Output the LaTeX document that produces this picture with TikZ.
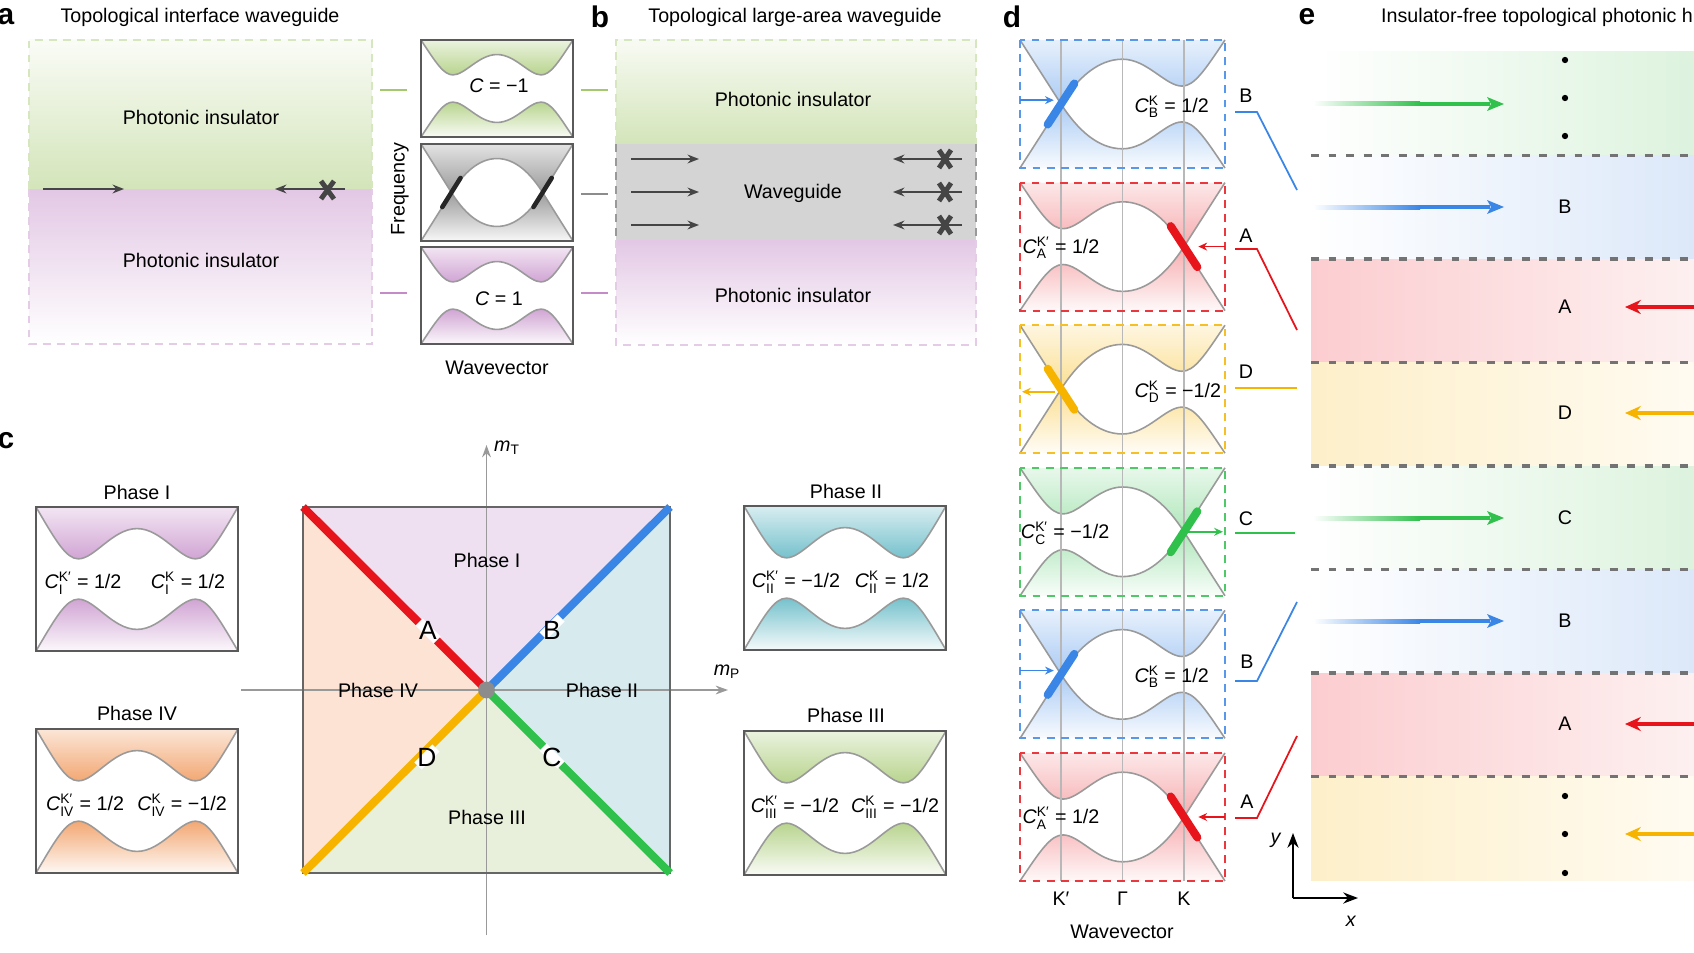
\documentclass[tikz,border=0pt]{standalone}
\usepackage{amsmath}
\usepackage{fontspec}
\setmainfont{Liberation Sans}
\usetikzlibrary{arrows.meta}
\definecolor{bgreen}{HTML}{A4C86E}
\definecolor{bpurple}{HTML}{C48BC8}
\definecolor{bteal}{HTML}{4FB0BE}
\definecolor{borange}{HTML}{EF8F4C}
\definecolor{eblue}{HTML}{3A86E6}
\definecolor{ered}{HTML}{E8141C}
\definecolor{eyellow}{HTML}{F6B400}
\definecolor{egreen}{HTML}{30C04C}
\definecolor{bandline}{HTML}{9A9A9A}
\definecolor{boxline}{HTML}{5A5A5A}
\definecolor{arrowgray}{HTML}{454545}
\definecolor{phI}{HTML}{EEE0F0}
\definecolor{phII}{HTML}{D7EBEF}
\definecolor{phIII}{HTML}{E8F0DB}
\definecolor{phIV}{HTML}{FDE3D3}
\definecolor{sgreen}{HTML}{DDF3DE}
\definecolor{sblue}{HTML}{DCE8F9}
\definecolor{sred}{HTML}{FCCDD0}
\definecolor{sredl}{HTML}{FDF0F0}
\definecolor{syel}{HTML}{FDEFC9}
\definecolor{syell}{HTML}{FFFBF1}
\colorlet{fblue}{eblue!55}
\colorlet{fred}{ered!45}
\colorlet{fyellow}{eyellow!55}
\colorlet{fgreen}{egreen!50}
\colorlet{fgray}{black!50}

% band curves in a unit box (y downwards); g = gapped valley, c = cone
\newcommand{\ugL}{(0,0) .. controls (0.1,0.24) and (0.15,0.36) .. (0.21,0.36) .. controls (0.29,0.36) and (0.38,0.15) .. (0.5,0.15)}
\newcommand{\ucL}{(0,0) -- (0.2,0.5) .. controls (0.28,0.3) and (0.38,0.15) .. (0.5,0.15)}
\newcommand{\ugR}{.. controls (0.62,0.15) and (0.71,0.36) .. (0.79,0.36) .. controls (0.85,0.36) and (0.9,0.24) .. (1,0)}
\newcommand{\ucR}{.. controls (0.62,0.15) and (0.72,0.3) .. (0.8,0.5) -- (1,0)}
\newcommand{\lgL}{(0,1) .. controls (0.1,0.76) and (0.15,0.64) .. (0.21,0.64) .. controls (0.29,0.64) and (0.38,0.85) .. (0.5,0.85)}
\newcommand{\lcL}{(0,1) -- (0.2,0.5) .. controls (0.28,0.7) and (0.38,0.85) .. (0.5,0.85)}
\newcommand{\lgR}{.. controls (0.62,0.85) and (0.71,0.64) .. (0.79,0.64) .. controls (0.85,0.64) and (0.9,0.76) .. (1,1)}
\newcommand{\lcR}{.. controls (0.62,0.85) and (0.72,0.7) .. (0.8,0.5) -- (1,1)}
\newcommand{\bandbox}[7]{%
  \begin{scope}[shift={(#1,#2)},xscale=#3,yscale=#4]
    \shade[top color=#5!22,bottom color=#5!78] #6 -- cycle;
    \shade[top color=#5!78,bottom color=#5!6] #7 -- cycle;
    \draw[band] #6;
    \draw[band] #7;
  \end{scope}}
\newcommand{\chern}[2]{\textit{C}$^{\text{#1}}_{\text{#2}}$}

\begin{document}
\begin{tikzpicture}[x=0.02cm,y=-0.02cm,>=Stealth,
  font=\fontsize{11.2}{13}\selectfont,
  band/.style={draw=bandline,line width=0.9pt},
  bbox/.style={draw=boxline,line width=1.3pt},
  plet/.style={font=\fontsize{17}{17}\selectfont\bfseries},
  garr/.style={-{Stealth[length=6.5pt,width=5pt]},draw=arrowgray,line width=1.1pt},
  xmark/.style={draw=arrowgray,line width=2.8pt},
  estate/.style={line width=4.6pt,line cap=round},
  dash box/.style={line width=1.1pt,dash pattern=on 4.5pt off 3.5pt},
  tick/.style={line width=1.6pt},
  axis/.style={draw=black!40,line width=1pt},
  diag/.style={line width=4.6pt},
  gap/.style={draw=white,line width=5.8pt},
  sqlet/.style={font=\fontsize{15}{15}\selectfont},
  karr/.style={-{Stealth[length=5pt,width=4.5pt]},line width=1pt},
  link/.style={line width=1pt},
  lane/.style={dash pattern=on 4.5pt off 5.5pt,draw=black!55,line width=1.8pt}]

  \useasboundingbox (0,0) rectangle (1694,953);

  % a: interface waveguide
  \node[plet] (la) at (6,17) {a};
  \node (ta) at (200,17) {Topological interface waveguide};
  \shade[top color=bgreen!6,bottom color=bgreen!48] (29,40) rectangle (372,189);
  \shade[top color=bpurple!48,bottom color=white] (29,189) rectangle (372,344);
  \draw[dash box,draw=bgreen!45] (29,189) -- (29,40) -- (372,40) -- (372,189);
  \draw[dash box,draw=bpurple!45] (29,189) -- (29,344) -- (372,344) -- (372,189);
  \node (ia) at (201,117) {Photonic insulator};
  \node (ib) at (201,260) {Photonic insulator};
  \draw[garr] (43,189) -- (124,189);
  \draw[garr] (345,189) -- (275,189);
  \draw[xmark] (321,181) -- (334,199) (321,199) -- (334,181);

  \bandbox{421}{40}{152}{97}{bgreen}{\ugL\ugR}{\lgL\lgR}
  \bandbox{421}{144}{152}{97}{fgray}{\ucL\ucR}{\lcL\lcR}
  \bandbox{421}{247}{152}{97}{bpurple}{\ugL\ugR}{\lgL\lgR}
  \begin{scope}[shift={(421,144)},xscale=152,yscale=97]
    \draw[estate,black!85,line width=2.6pt] (0.14,0.65) -- (0.26,0.35) (0.74,0.65) -- (0.86,0.35);
  \end{scope}
  \foreach \t in {40,144,247} {\draw[bbox] (421,\t) rectangle ++(152,97);}
  \node (cm1) at (499,86) {\textit{C} = −1};
  \node (cp1) at (499,299) {\textit{C} = 1};
  \node[rotate=90] (fq) at (400,189) {Frequency};
  \node (wva) at (497,368) {Wavevector};
  \draw[tick,draw=bgreen] (380,90) -- (407,90);
  \draw[tick,draw=bpurple] (380,293) -- (407,293);
  \foreach \c/\y in {bgreen/90,black!45/194,bpurple/293}
    {\draw[tick,draw=\c] (581,\y) -- (608,\y);}

  % b: large-area waveguide
  \node[plet] (lb) at (600,17) {b};
  \node (tb) at (795,17) {Topological large-area waveguide};
  \shade[top color=bgreen!8,bottom color=bgreen!48] (616,40) rectangle (976,144);
  \fill[black!17] (616,144) rectangle (976,240);
  \shade[top color=bpurple!48,bottom color=white] (616,240) rectangle (976,345);
  \draw[dash box,draw=bgreen!45] (616,144) -- (616,40) -- (976,40) -- (976,144);
  \draw[dash box,draw=black!40] (616,144) -- (616,240) (976,144) -- (976,240);
  \draw[dash box,draw=bpurple!45] (616,240) -- (616,345) -- (976,345) -- (976,240);
  \node (pb1) at (793,99) {Photonic insulator};
  \node (wg) at (793,193) {Waveguide};
  \node (pb2) at (793,295) {Photonic insulator};
  \foreach \y in {159,192,225} {
    \draw[garr] (631,\y) -- (699,\y);
    \draw[garr] (962,\y) -- (893,\y);
    \draw[xmark] (939,{\y-9}) -- (951,{\y+9}) (939,{\y+9}) -- (951,{\y-9});
  }

  % c: phase diagram
  \node[plet] (lc) at (6,441) {c};
  \fill[phI] (303,507) -- (670,507) -- (486.5,690) -- cycle;
  \fill[phII] (670,507) -- (670,873) -- (486.5,690) -- cycle;
  \fill[phIII] (670,873) -- (303,873) -- (486.5,690) -- cycle;
  \fill[phIV] (303,873) -- (303,507) -- (486.5,690) -- cycle;
  \draw[axis,-{Stealth[length=7pt,width=5pt]}] (241,690) -- (728,690);
  \draw[axis,-{Stealth[length=7pt,width=5pt]}] (486.5,935) -- (486.5,445);
  \draw[draw=black!60,line width=1pt] (303,507) rectangle (670,873);
  \draw[diag,ered] (303,507) -- (486.5,690);
  \draw[diag,eblue] (670,507) -- (486.5,690);
  \draw[diag,egreen] (670,873) -- (486.5,690);
  \draw[diag,eyellow] (303,873) -- (486.5,690);
  \fill[black!45] (486.5,690) circle (4.8pt);
  % white breaks under the boundary letters
  \draw[gap] (419,622) -- (437,640);
  \draw[gap] (543,636) -- (561,618);
  \draw[gap] (418,766) -- (436,748);
  \draw[gap] (543,747) -- (561,765);
  \node[sqlet] (qA) at (428,630) {A};
  \node[sqlet] (qB) at (552,630) {B};
  \node[sqlet] (qD) at (427,757) {D};
  \node[sqlet] (qC) at (552,757) {C};
  \node (mt) at (507,448) {\textit{m}$_{\text{T}}$};
  \node (mp) at (727,672) {\textit{m}$_{\text{P}}$};
  \node (rI) at (487,560) {Phase I};
  \node (rIV) at (378,690) {Phase IV};
  \node (rII) at (602,690) {Phase II};
  \node (rIII) at (487,817) {Phase III};

  \bandbox{36}{507}{202}{144}{bpurple}{\ugL\ugR}{\lgL\lgR}
  \bandbox{36}{729}{202}{144}{borange}{\ugL\ugR}{\lgL\lgR}
  \bandbox{744}{506}{202}{144}{bteal}{\ugL\ugR}{\lgL\lgR}
  \bandbox{744}{731}{202}{144}{bgreen}{\ugL\ugR}{\lgL\lgR}
  \foreach \bx/\by in {36/507,36/729,744/506,744/731}
    {\draw[bbox] (\bx,\by) rectangle ++(202,144);}
  \node (tI) at (137,492) {Phase I};
  \node (tIV) at (137,713) {Phase IV};
  \node (tII) at (846,491) {Phase II};
  \node (tIII) at (846,715) {Phase III};
  \node (kI1) at (83,583) {\chern{K′}{I} = 1/2};
  \node (kI2) at (188,583) {\chern{K}{I} = 1/2};
  \node (kIV1) at (85,805) {\chern{K′}{IV} = 1/2};
  \node (kIV2) at (182,805) {\chern{K}{IV} = −1/2};
  \node (kII1) at (796,582) {\chern{K′}{II} = −1/2};
  \node (kII2) at (892,582) {\chern{K}{II} = 1/2};
  \node (kIII1) at (795,807) {\chern{K′}{III} = −1/2};
  \node (kIII2) at (895,807) {\chern{K}{III} = −1/2};

  % d: band structures along the boundaries
  \node[plet] (ld) at (1012,17) {d};
  \foreach \t/\c/\up/\lo in {40/fblue/\ucL\ugR/\lcL\lgR, 182.6/fred/\ugL\ucR/\lgL\lcR,
      325.2/fyellow/\ucL\ugR/\lcL\lgR, 467.8/fgreen/\ugL\ucR/\lgL\lcR,
      610.4/fblue/\ucL\ugR/\lcL\lgR, 753/fred/\ugL\ucR/\lgL\lcR}
    {\bandbox{1020}{\t}{205}{128}{\c}{\up}{\lo}}
  \foreach \xx in {1061,1122.5,1184}
    {\draw[black!28,line width=0.7pt] (\xx,40) -- (\xx,881);}
  \foreach \t/\c in {40/eblue,182.6/ered,325.2/eyellow,467.8/egreen,610.4/eblue,753/ered}
    {\draw[dash box,draw=\c!85] (1020,\t) rectangle ++(205,128);}
  \foreach \t/\n in {40/1,610.4/2} {
    \begin{scope}[shift={(1020,\t)},xscale=205,yscale=128]
      \draw[estate,eblue] (0.135,0.66) -- (0.265,0.34);
      \draw[karr,eblue] (0,0.47) -- (0.165,0.47);
      \node (cB\n) at (0.74,0.52) {\chern{K}{B} = 1/2};
    \end{scope}
  }
  \foreach \t/\n in {182.6/1,753/2} {
    \begin{scope}[shift={(1020,\t)},xscale=205,yscale=128]
      \draw[estate,ered] (0.735,0.34) -- (0.865,0.66);
      \draw[karr,ered] (1,0.5) -- (0.87,0.5);
      \node (cA\n) at (0.2,0.51) {\chern{K′}{A} = 1/2};
    \end{scope}
  }
  \begin{scope}[shift={(1020,325.2)},xscale=205,yscale=128]
    \draw[estate,eyellow] (0.135,0.34) -- (0.265,0.66);
    \draw[karr,eyellow] (0.17,0.52) -- (0.01,0.52);
    \node (cD) at (0.77,0.52) {\chern{K}{D} = −1/2};
  \end{scope}
  \begin{scope}[shift={(1020,467.8)},xscale=205,yscale=128]
    \draw[estate,egreen] (0.735,0.66) -- (0.865,0.34);
    \draw[karr,egreen] (0.8,0.5) -- (0.99,0.5);
    \node (cC) at (0.22,0.51) {\chern{K′}{C} = −1/2};
  \end{scope}
  \node (kp) at (1061,899) {K′};
  \node (gm) at (1122.5,899) {Γ};
  \node (kk) at (1184,899) {K};
  \node (wvd) at (1122,932) {Wavevector};

  % links d -> e
  \node (dB1) at (1246,96) {B};
  \node (dA1) at (1246,236) {A};
  \node (dD) at (1246,372) {D};
  \node (dC) at (1246,519) {C};
  \node (dB2) at (1247,662) {B};
  \node (dA2) at (1247,802) {A};
  \draw[link,eblue] (1235,112) -- (1257,112) -- (1297,190);
  \draw[link,ered] (1235,249) -- (1257,249) -- (1297,330);
  \draw[link,eyellow] (1235,388) -- (1297,388);
  \draw[link,egreen] (1235,533) -- (1295,533);
  \draw[link,eblue] (1235,681) -- (1257,681) -- (1297,602);
  \draw[link,ered] (1235,818) -- (1257,818) -- (1297,736);

  % e: insulator-free heterostructure
  \node[plet] (le) at (1307,17) {e};
  \node[anchor=west] (te) at (1375,17) {Insulator-free topological photonic h};
  \foreach \i/\l/\r in {0/white/sgreen,1/white/sblue,2/sred/sredl,3/syel/syell,
      4/white/sgreen,5/white/sblue,6/sred/sredl,7/syel/syell}
    {\shade[left color=\l,right color=\r] (1311,{52+103.5*\i}) rectangle (1694,{155.5+103.5*\i});}
  \foreach \i in {1,...,7}
    {\draw[lane] (1311,{52+103.5*\i}) -- (1694,{52+103.5*\i});}
  \foreach \y/\c in {104/egreen,207/eblue,518/egreen,621/eblue} {
    \shade[left color=white,right color=\c] (1313,{\y-2}) rectangle (1420,{\y+2});
    \fill[\c] (1420,{\y-2}) rectangle (1490,{\y+2});
    \fill[\c] (1504,\y) -- (1487,{\y-7}) -- (1491,\y) -- (1487,{\y+7}) -- cycle;
  }
  \foreach \y/\c in {307/ered,413/eyellow,724/ered,834/eyellow}
    {\draw[\c,line width=2.3pt,-{Stealth[length=9pt,width=8pt]}] (1694,\y) -- (1625,\y);}
  \foreach \y in {60,98,136,796,834,873}
    {\fill (1565,\y) circle (1.8pt);}
  \foreach \y/\s in {207/B,307/A,413/D,518/C,621/B,724/A}
    {\node (s\s\y) at (1565,\y) {\s};}
  \draw[->,line width=1.2pt] (1293,898) -- (1293,833);
  \draw[->,line width=1.2pt] (1293,898) -- (1358,898);
  \node (ay) at (1276,840) {\textit{y}};
  \node (ax) at (1351,921) {\textit{x}};
\end{tikzpicture}
\end{document}
